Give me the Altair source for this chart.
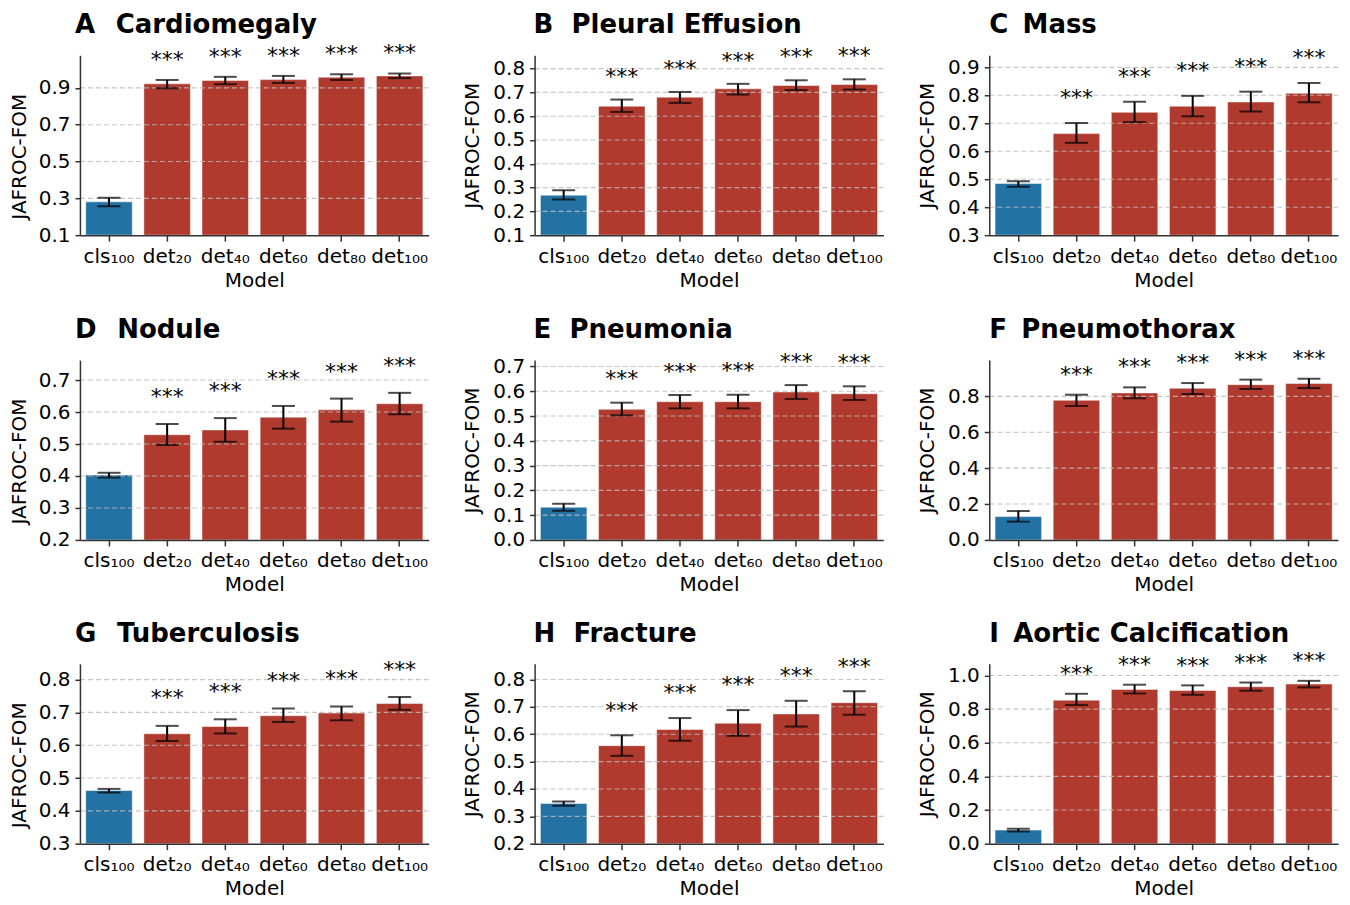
import altair as alt
import pandas as pd

# ---------------- data ----------------
models = ["cls₁₀₀", "det₂₀", "det₄₀", "det₆₀", "det₈₀", "det₁₀₀"]
groups = ["cls", "det", "det", "det", "det", "det"]

letters = ["A", "B", "C", "D", "E", "F", "G", "H", "I"]
names = ["Cardiomegaly", "Pleural Effusion", "Mass", "Nodule", "Pneumonia",
         "Pneumothorax", "Tuberculosis", "Fracture", "Aortic Calcification"]

cardiomegaly_mean = [0.281, 0.922, 0.940, 0.945, 0.958, 0.965]
cardiomegaly_lo = [0.257, 0.898, 0.920, 0.927, 0.943, 0.953]
cardiomegaly_hi = [0.303, 0.943, 0.960, 0.965, 0.974, 0.978]

effusion_mean = [0.268, 0.642, 0.680, 0.715, 0.729, 0.733]
effusion_lo = [0.250, 0.618, 0.656, 0.691, 0.710, 0.712]
effusion_hi = [0.289, 0.670, 0.702, 0.736, 0.751, 0.755]

mass_mean = [0.485, 0.663, 0.739, 0.761, 0.776, 0.807]
mass_lo = [0.473, 0.630, 0.704, 0.725, 0.742, 0.775]
mass_hi = [0.493, 0.701, 0.777, 0.798, 0.813, 0.844]

nodule_mean = [0.403, 0.529, 0.544, 0.584, 0.607, 0.626]
nodule_lo = [0.395, 0.497, 0.507, 0.548, 0.570, 0.593]
nodule_hi = [0.410, 0.5625, 0.581, 0.619, 0.642, 0.660]

pneumonia_mean = [0.132, 0.527, 0.558, 0.558, 0.597, 0.590]
pneumonia_lo = [0.118, 0.503, 0.531, 0.531, 0.569, 0.565]
pneumonia_hi = [0.1465, 0.554, 0.585, 0.586, 0.625, 0.620]

pneumothorax_mean = [0.130, 0.778, 0.819, 0.845, 0.865, 0.872]
pneumothorax_lo = [0.102, 0.746, 0.789, 0.813, 0.841, 0.846]
pneumothorax_hi = [0.161, 0.809, 0.850, 0.874, 0.893, 0.898]

tuberculosis_mean = [0.462, 0.635, 0.657, 0.690, 0.698, 0.727]
tuberculosis_lo = [0.456, 0.613, 0.636, 0.671, 0.676, 0.708]
tuberculosis_hi = [0.467, 0.659, 0.679, 0.712, 0.718, 0.747]

fracture_mean = [0.347, 0.558, 0.617, 0.640, 0.674, 0.715]
fracture_lo = [0.339, 0.521, 0.576, 0.594, 0.628, 0.671]
fracture_hi = [0.3545, 0.596, 0.659, 0.688, 0.722, 0.757]

aortic_mean = [0.081, 0.853, 0.917, 0.911, 0.933, 0.949]
aortic_lo = [0.073, 0.824, 0.893, 0.885, 0.909, 0.929]
aortic_hi = [0.089, 0.891, 0.945, 0.941, 0.958, 0.968]

means = [cardiomegaly_mean, effusion_mean, mass_mean, nodule_mean, pneumonia_mean,
         pneumothorax_mean, tuberculosis_mean, fracture_mean, aortic_mean]
los = [cardiomegaly_lo, effusion_lo, mass_lo, nodule_lo, pneumonia_lo,
       pneumothorax_lo, tuberculosis_lo, fracture_lo, aortic_lo]
his = [cardiomegaly_hi, effusion_hi, mass_hi, nodule_hi, pneumonia_hi,
       pneumothorax_hi, tuberculosis_hi, fracture_hi, aortic_hi]

y_domains = [[0.1, 1.077], [0.1, 0.856], [0.3, 0.943], [0.2, 0.7625], [0.0, 0.726],
             [0.0, 1.002], [0.3, 0.848], [0.2, 0.857], [0.0, 1.069]]
y_ticks = [
    [0.1, 0.3, 0.5, 0.7, 0.9],
    [0.1, 0.2, 0.3, 0.4, 0.5, 0.6, 0.7, 0.8],
    [0.3, 0.4, 0.5, 0.6, 0.7, 0.8, 0.9],
    [0.2, 0.3, 0.4, 0.5, 0.6, 0.7],
    [0.0, 0.1, 0.2, 0.3, 0.4, 0.5, 0.6, 0.7],
    [0.0, 0.2, 0.4, 0.6, 0.8],
    [0.3, 0.4, 0.5, 0.6, 0.7, 0.8],
    [0.2, 0.3, 0.4, 0.5, 0.6, 0.7, 0.8],
    [0.0, 0.2, 0.4, 0.6, 0.8, 1.0],
]
significance = "***"
STAR_GAP = 0.05  # stars sit this far (data units) above the upper error bound

# ---------------- style ----------------
FONT = "DejaVu Sans"
BLUE = "#2471a3"
RED = "#b03a2e"
SPINE = "#333333"
W, H = 349, 180


def panel(i):
    col = i % 3
    df = pd.DataFrame({"model": models, "group": groups,
                       "mean": means[i], "lo": los[i], "hi": his[i]})
    ymin, ymax = y_domains[i]
    yscale = alt.Scale(domain=[ymin, ymax], nice=False, zero=False)

    x = alt.X("model:N", sort=models,
              scale=alt.Scale(paddingInner=0.2, paddingOuter=0.1),
              axis=alt.Axis(title="Model", labelAngle=0, labelFont=FONT, labelFontSize=20,
                            labelColor="black", labelPadding=5, labelOverlap=False,
                            labelLimit=0, tickSize=6, tickColor=SPINE, tickWidth=1.5,
                            domainColor=SPINE, domainWidth=1.5, titleFont=FONT,
                            titleFontSize=20, titleFontWeight="normal", titleColor="black",
                            titlePadding=4, zindex=1))

    yaxis = alt.Axis(title="JAFROC-FOM", values=y_ticks[i], format=".1f", grid=False,
                     domainColor=SPINE, domainWidth=1.5, tickColor=SPINE, tickWidth=1.5,
                     tickSize=5, labelFont=FONT, labelFontSize=20, labelColor="black",
                     labelPadding=5, labelFlush=False, labelOverlap=False,
                     titleFont=FONT, titleFontSize=20, titleFontWeight="normal",
                     titleColor="black", titleAngle=270, titleAlign="center",
                     titleBaseline="middle", titleX=-60 if col == 0 else -62,
                     titleY=H / 2 + (11 if col == 0 else 0), zindex=1)

    def Y(field):
        return alt.Y(field, scale=yscale, axis=yaxis)

    base = alt.Chart(df)
    bars = base.mark_bar(stroke="white", strokeWidth=0.8, strokeOpacity=0.6).encode(
        x=x,
        y=Y("mean:Q"),
        y2=alt.datum(ymin),
        color=alt.Color("group:N", scale=alt.Scale(domain=["cls", "det"], range=[BLUE, RED]),
                        legend=None),
    )
    grid = alt.Chart(pd.DataFrame({"t": y_ticks[i]})).transform_filter(
        f"datum.t > {ymin} + 1e-9"
    ).mark_rule(color="#bbbbbb", opacity=0.85, strokeDash=[5, 3], strokeWidth=1.1).encode(
        y=Y("t:Q")
    )
    err = base.mark_rule(color="black", strokeWidth=2).encode(
        x=x, y=Y("lo:Q"), y2="hi:Q")
    cap_lo = base.mark_tick(color="black", size=23, thickness=2).encode(x=x, y=Y("lo:Q"))
    cap_hi = base.mark_tick(color="black", size=23, thickness=2).encode(x=x, y=Y("hi:Q"))
    stars = base.transform_filter("datum.group == 'det'").transform_calculate(
        sy=f"datum.hi + {STAR_GAP}"
    ).mark_text(text=significance, font=FONT, fontSize=22, baseline="alphabetic",
                dy=-4, color="black").encode(x=x, y=Y("sy:Q"))

    # the star texts enlarge the view bounds above the plot; compensate the title offset
    star_px = (ymax - (max(his[i]) + STAR_GAP)) / (ymax - ymin) * H
    t_offset = star_px - 26

    sep = ["\u00a0\u00a0\u200a", "\u00a0\u00a0", "\u00a0\u2009"][col]
    dx = [-5, -1, 0][col]
    return alt.layer(bars, grid, err, cap_lo, cap_hi, stars).properties(
        width=W, height=H,
        title=alt.TitleParams(text=f"{letters[i]}{sep}{names[i]}", anchor="start", font=FONT,
                              fontSize=26, fontWeight="bold", color="black",
                              baseline="alphabetic", offset=t_offset, dx=dx, frame="group"),
    )


rows = [alt.hconcat(*[panel(r * 3 + c) for c in range(3)], spacing=33)
        for r in range(3)]
chart = alt.vconcat(*rows, spacing=26).properties(
    padding={"left": 2, "top": 3, "right": 3, "bottom": 0}
).configure(font=FONT).configure_view(stroke=None)

chart.save("out.html", embed_options={"renderer": "svg", "actions": False})
